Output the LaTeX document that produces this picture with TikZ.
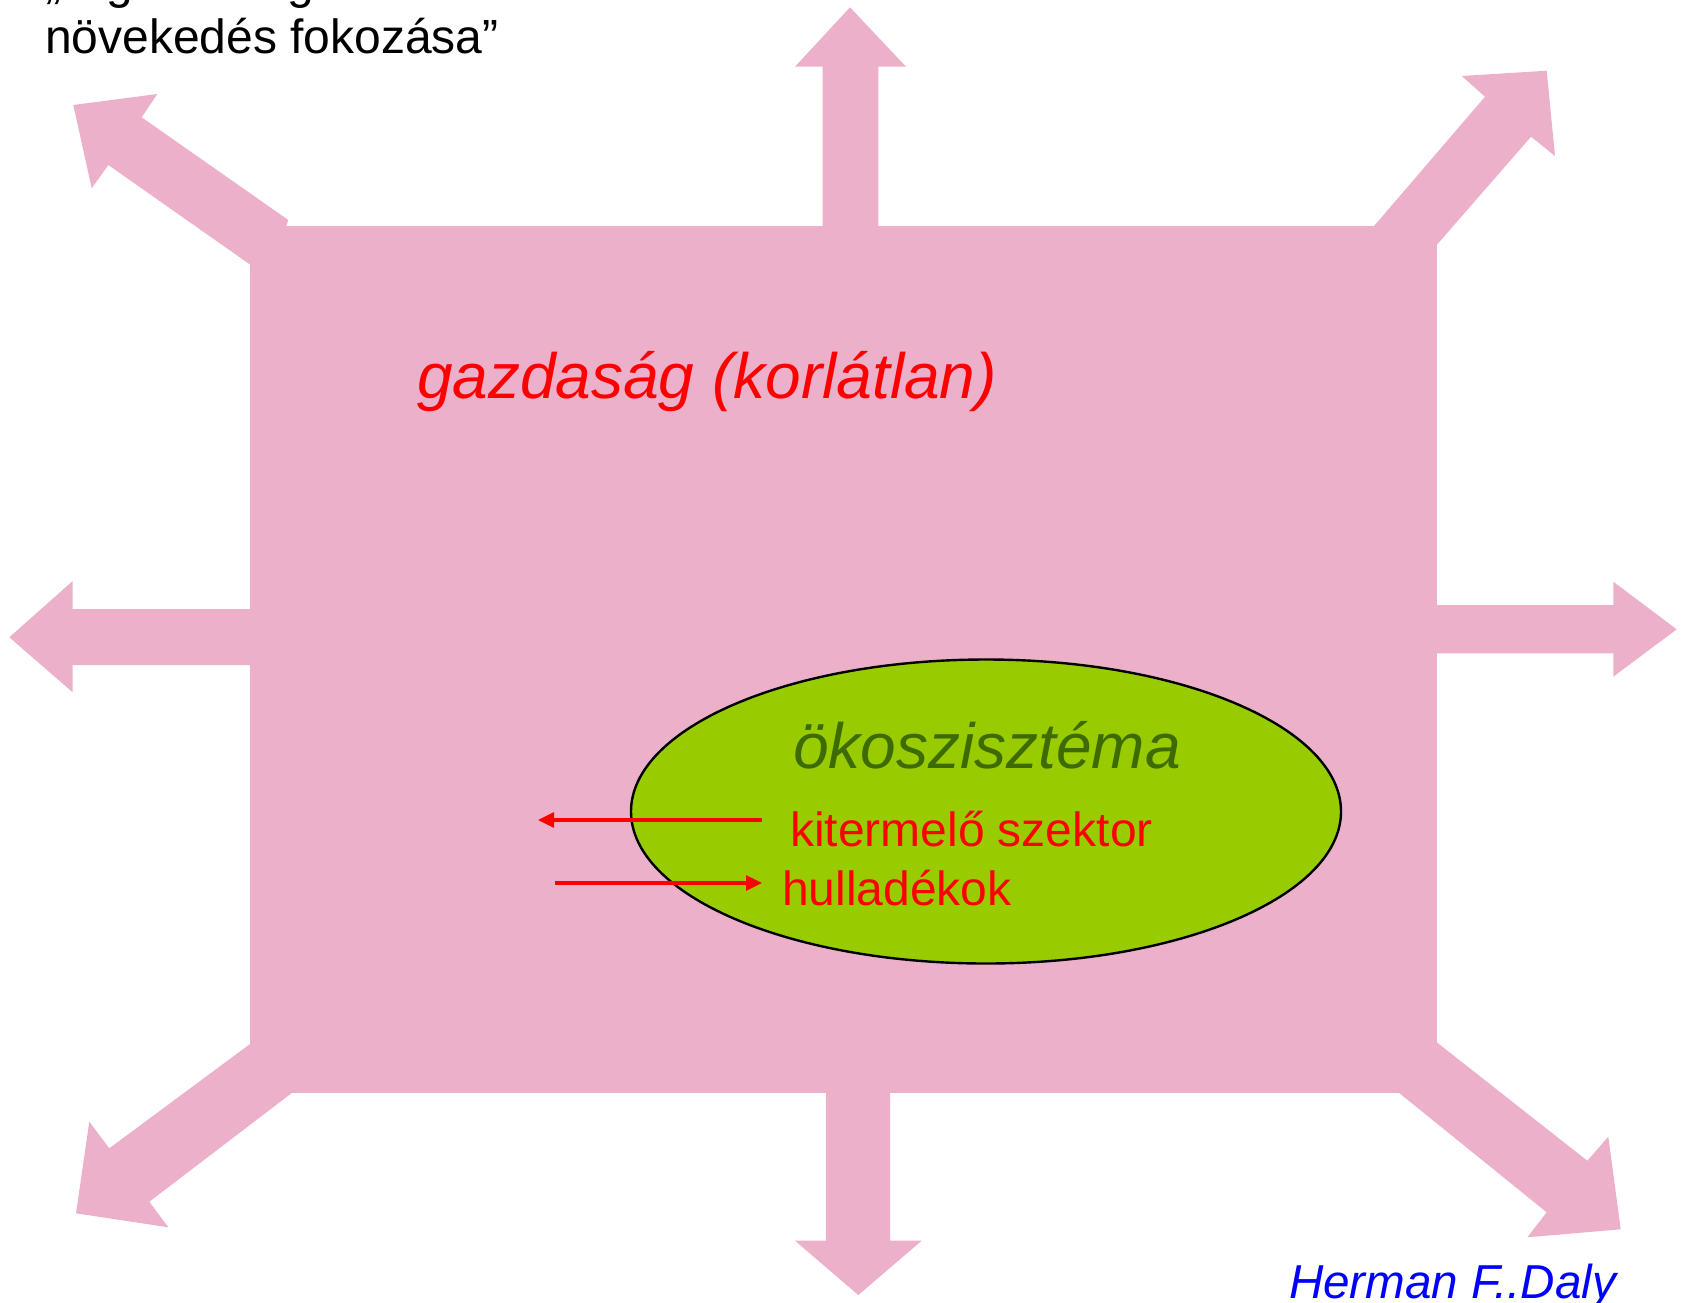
\documentclass[tikz,border=0pt]{standalone}
\usepackage{fontspec}
\setmainfont{Liberation Sans}
\usetikzlibrary{arrows.meta,shapes.geometric}
\definecolor{pinkfill}{RGB}{237,176,203}
\definecolor{ecogreen}{RGB}{153,204,0}
\definecolor{darkgreen}{RGB}{61,107,0}
\tikzset{
  bigarrow/.style={fill=pinkfill, draw=none},
  lbl/.style={anchor=base west, inner sep=0pt, outer sep=0pt},
  flow/.style={draw=red, line width=1.6pt, -{Triangle[length=8pt,width=7.5pt]}},
}
\begin{document}
\begin{tikzpicture}[x=0.5pt,y=-0.5pt]
\useasboundingbox (0,0) rectangle (1686,1302);
% main rectangle (economy)
\fill[pinkfill] (250,226) rectangle (1436.5,1092.5);
% top arrow
\fill[bigarrow] (822.7,230) -- (822.7,66.7) -- (795,66.7) -- (850,7.3) -- (906,66.7) -- (878.3,66.7) -- (878.3,230) -- cycle;
% bottom arrow
\fill[bigarrow] (826,1088) -- (826,1240.7) -- (795,1240.7) -- (858.3,1295) -- (921.7,1240.7) -- (890,1240.7) -- (890,1088) -- cycle;
% left arrow
\fill[bigarrow] (254,609) -- (72.7,609) -- (72.7,581) -- (9.3,637.3) -- (72.7,692.3) -- (72.7,665) -- (254,665) -- cycle;
% right arrow
\fill[bigarrow] (1432,605) -- (1613.3,605) -- (1613.3,581.7) -- (1676.7,629.3) -- (1613.3,676.7) -- (1613.3,653.3) -- (1432,653.3) -- cycle;
% top-left arrow
\fill[bigarrow] (73.3,105) -- (157.3,94) -- (141.7,117.3) -- (288.3,220) -- (285,230) -- (250,264.5) -- (108.3,165) -- (91.7,188.3) -- cycle;
% top-right arrow
\fill[bigarrow] (1546.7,70.7) -- (1555,156) -- (1531,136.7) -- (1436.7,245) -- (1374.3,225.7) -- (1485,96.7) -- (1461.7,76) -- cycle;
% bottom-left arrow
\fill[bigarrow] (250,1044) -- (109.3,1148.3) -- (89.3,1121.7) -- (76,1213.3) -- (168.3,1227.3) -- (149.3,1201.7) -- (292.7,1092.3) -- cycle;
% bottom-right arrow
\fill[bigarrow] (1436,1041.7) -- (1587.3,1160.7) -- (1608.3,1136.7) -- (1620.7,1229.3) -- (1527.3,1237.3) -- (1546.7,1212.3) -- (1398.3,1092.3) -- cycle;
% ecosystem
\node[ellipse, draw=black, line width=1.2pt, fill=ecogreen, minimum width=355pt, minimum height=152pt, inner sep=0pt] (eco) at (986,811.5) {};
% texts
\node[lbl, text=red, font=\fontsize{32pt}{36pt}\selectfont\itshape] (gazd) at (417,398) {gazdaság (korlátlan)};
\node[lbl, text=darkgreen, font=\fontsize{32pt}{36pt}\selectfont\itshape] (oko) at (793,768) {ökoszisztéma};
\node[lbl, text=red, font=\fontsize{24pt}{28pt}\selectfont] (kit) at (790,846) {kitermelő szektor};
\node[lbl, text=red, font=\fontsize{24pt}{28pt}\selectfont] (hull) at (782,905) {hulladékok};
\node[lbl, text=black, font=\fontsize{24pt}{27.6pt}\selectfont] (title) at (45,53.8) {növekedés fokozása”};
\node[lbl, text=black, font=\fontsize{24pt}{27.6pt}\selectfont] (title0) at (45,-1.5) {„A gazdasági};
\node[lbl, text=blue, font=\fontsize{23.8pt}{27pt}\selectfont\itshape] (auth) at (1289,1298) {Herman F..Daly};
% flows
\coordinate (kstart) at (762,820);
\coordinate (kend) at (538,820);
\coordinate (hstart) at (555,883);
\coordinate (hend) at (762,883);
\draw[flow] (kstart) -- (kend);
\draw[flow] (hstart) -- (hend);
\end{tikzpicture}
\end{document}
